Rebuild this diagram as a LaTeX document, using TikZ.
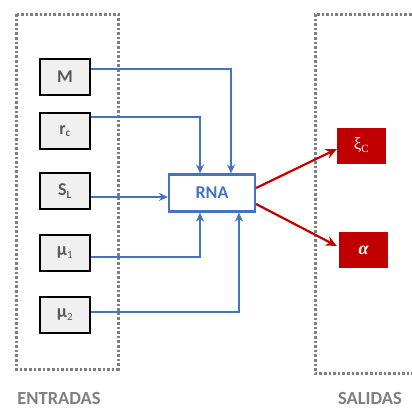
\documentclass[tikz,border=0pt]{standalone}
\usepackage{fontspec}
\setmainfont{Carlito}
\newfontfamily\serifgr{Liberation Serif}
\usetikzlibrary{arrows.meta}
\definecolor{framegray}{HTML}{7F7F7F}
\definecolor{labelgray}{HTML}{595959}
\definecolor{boxfill}{HTML}{F0F0F0}
\definecolor{netblue}{HTML}{4472C4}
\definecolor{outred}{HTML}{C00000}
\tikzset{
  frame/.style={draw=framegray, line width=3pt, dash pattern=on 2.6pt off 2pt},
  inbox/.style={draw=black, line width=2.6pt, fill=boxfill, minimum width=50pt, minimum height=36pt,
    inner sep=0pt, font=\fontsize{18}{20}\selectfont\bfseries, text=labelgray},
  netbox/.style={draw=netblue, line width=2.2pt, fill=white, minimum width=86pt, minimum height=37pt,
    inner sep=0pt, font=\fontsize{18}{20}\selectfont\bfseries, text=netblue},
  outbox/.style={fill=outred, minimum width=49pt, minimum height=36pt, inner sep=0pt, text=white},
  feed/.style={draw=netblue, line width=2pt, -{Stealth[length=9pt,width=8pt]}},
  result/.style={draw=outred, line width=2.2pt, -{Stealth[length=11pt,width=10pt]}},
  caption/.style={font=\fontsize{18.5}{20}\selectfont\bfseries, text=framegray}
}
\begin{document}
\begin{tikzpicture}[x=1pt,y=-1pt]
\useasboundingbox (0,0) rectangle (412,408);
% input and output frames
\draw[frame] (16,14) rectangle (118,369);
\draw[frame] (430,14) -- (315,14) -- (315,373) -- (430,373);
% input variables
\node[inbox] (m)  at (65,77)  {M};
\node[inbox] (rc) at (65,131) {r\textsubscript{\fontsize{11}{12}\selectfont c}};
\node[inbox] (sl) at (65,191) {S\textsubscript{\fontsize{11}{12}\selectfont L}};
\node[inbox] (m1) at (65,253) {μ\textsubscript{\fontsize{11}{12}\selectfont\mdseries 1}};
\node[inbox] (m2) at (65,315) {μ\textsubscript{\fontsize{11}{12}\selectfont\mdseries 2}};
% neural network
\node[netbox] (rna) at (212,193) {RNA};
% outputs
\node[outbox] (xi) at (361.5,145.5) {\fontsize{17}{19}\selectfont\serifgr ξ\textsubscript{\fontsize{11}{12}\selectfont C}};
\node[outbox] (al) at (363.5,250) {\fontsize{18}{20}\selectfont\serifgr\bfseries\itshape α};
% connections into the network
\draw[feed] (m.east |- 0,69) -| ([xshift=19pt]rna.north);
\draw[feed] (rc.east |- 0,117) -| ([xshift=-12pt]rna.north);
\draw[feed] (sl.east |- 0,197) -- (rna.west |- 0,197);
\draw[feed] (m1.east |- 0,257) -| ([xshift=-12pt]rna.south);
\draw[feed] (m2.east |- 0,312) -| ([xshift=27pt]rna.south);
% outputs of the network
\draw[result] ([yshift=5pt]rna.east) -- (xi.west |- 0,149);
\draw[result] ([yshift=-11pt]rna.east) -- ([xshift=-2pt]al.west |- 0,246);
% captions
\node[caption] (ent) at (59,398) {ENTRADAS};
\node[caption] (sal) at (370,398) {SALIDAS};
\end{tikzpicture}
\end{document}
